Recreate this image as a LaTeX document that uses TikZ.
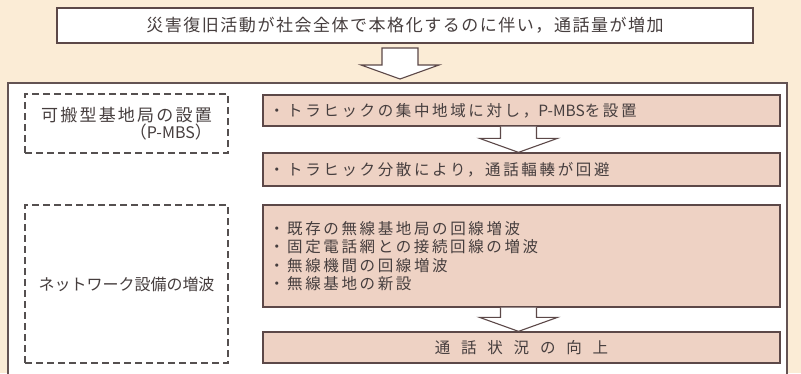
\documentclass[tikz,border=0pt]{standalone}
\usepackage{fontspec}
\usetikzlibrary{calc}
\newfontfamily\jptop[LetterSpace=9]{Noto Sans CJK JP}
\newfontfamily\jpbox[LetterSpace=17]{Noto Sans CJK JP}
\newfontfamily\jpleft[LetterSpace=13]{Noto Sans CJK JP}
\newfontfamily\jpnet[LetterSpace=0]{Noto Sans CJK JP}
\newfontfamily\jplat{Noto Sans CJK JP}
\definecolor{bgc}{RGB}{251,236,214}
\definecolor{pinkc}{RGB}{238,210,196}
\definecolor{edgec}{RGB}{92,72,72}
\definecolor{dashc}{RGB}{85,80,80}
\definecolor{txtc}{RGB}{70,62,62}
\newcommand\blockarr[3]{% #1 shaft top centre, #2 tip, #3 closing
  \draw[arrowline] ($(#1)+(-18,0)$) -- ($(#2)+(-18,-14)$) -- ($(#2)+(-39,-14)$) -- (#2)
    -- ($(#2)+(39,-14)$) -- ($(#2)+(18,-14)$) -- ($(#1)+(18,0)$) #3;}
\newcommand\pmbs{{\jplat P-MBS}}
\begin{document}
\begin{tikzpicture}[x=1pt,y=-1pt,
  every node/.style={text=txtc},
  topbox/.style={draw=edgec, fill=white, line width=1.2pt, minimum width=696pt, minimum height=35pt,
    inner sep=0pt, font=\jptop\fontsize{17pt}{20pt}\selectfont},
  pinkbox/.style={draw=edgec, fill=pinkc, line width=1.3pt, minimum width=517pt,
    text width=505pt, inner xsep=6pt, inner ysep=0pt, align=left,
    font=\jpbox\fontsize{15.5pt}{18.3pt}\selectfont},
  dashbox/.style={draw=dashc, line width=1.2pt, dash pattern=on 7pt off 4pt, minimum width=203pt,
    inner sep=0pt},
  arrowline/.style={draw=edgec, fill=white, line width=1.1pt, line join=miter},
  outerline/.style={draw=edgec!80!gray, fill=white, line width=1.1pt}]
\useasboundingbox (0,0) rectangle (801,373);
\clip (0,0) rectangle (801,373);
\fill[bgc] (0,0) rectangle (801,373);

% top box
\node[topbox] (top) at (405,25.5) {災害復旧活動が社会全体で本格化するのに伴い，通話量が増加};

% outer frame
\draw[outerline] (8,83) rectangle (787,400);

% top arrow
\coordinate (a0s) at (400,48);
\coordinate (a0t) at (400,79);
\blockarr{a0s}{a0t}{-- cycle}

% left dashed boxes
\node[dashbox, minimum height=59pt, align=right,
  font=\jpleft\fontsize{17pt}{17pt}\selectfont] (d1) at (126.5,123.5)
  {可搬型基地局の設置\\（{\jplat\fontsize{16pt}{17pt}\selectfont P-MBS}）};
\node[dashbox, minimum height=158pt,
  font=\jpnet\fontsize{16pt}{18pt}\selectfont] (d2) at (126.5,284) {ネットワーク設備の増波};

% pink boxes
\node[pinkbox, minimum height=31pt] (p1) at (521.5,110.5) {・トラヒックの集中地域に対し，\pmbs を設置};
\node[pinkbox, minimum height=33pt] (p2) at (521.5,169.5) {・トラヒック分散により，通話輻輳が回避};
\node[pinkbox, minimum height=102pt] (p3) at (521.5,256)
  {・既存の無線基地局の回線増波\\・固定電話網との接続回線の増波\\・無線機間の回線増波\\・無線基地の新設};
\node[pinkbox, minimum height=31pt, align=center] (p4) at (521.5,347.5)
  {通\hspace{10.8pt}話\hspace{10.8pt}状\hspace{10.8pt}況\hspace{10.8pt}の\hspace{10.8pt}向\hspace{10.8pt}上};

% arrows between pink boxes
\coordinate (a1s) at ($(p1.south)+(-3,0)$);
\coordinate (a1t) at ($(p2.north)+(-3,0)$);
\blockarr{a1s}{a1t}{}
\coordinate (a2s) at ($(p3.south)+(-3,0)$);
\coordinate (a2t) at ($(p4.north)+(-3,0)$);
\blockarr{a2s}{a2t}{}
\end{tikzpicture}
\end{document}
